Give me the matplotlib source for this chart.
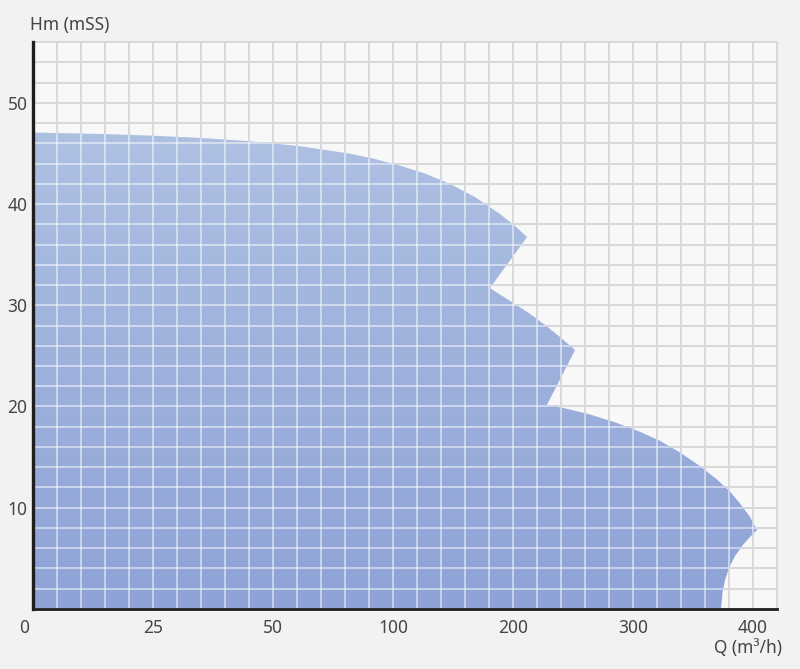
import numpy as np
import matplotlib
matplotlib.use("Agg")
import matplotlib.pyplot as plt
from matplotlib.patches import Polygon
from matplotlib.ticker import FixedLocator, NullFormatter
import matplotlib.transforms as mtransforms

plt.rcParams['font.family'] = ['Noto Sans', 'DejaVu Sans']

# asse Q non lineare: ogni tratto tra due etichette ha la stessa larghezza
q_knots = [0, 25, 50, 100, 200, 300, 400, 420]
u_knots = [0, 5, 10, 15, 20, 25, 30, 31]
q_ticks = [0, 25, 50, 100, 200, 300, 400]
h_ticks = [10, 20, 30, 40, 50]

# contorno del campo di lavoro (Q in m3/h, Hm in m)
# curva alta
q_top = [0, 14.0, 24.4, 34.8, 45.2, 61.3, 82.1, 92.5, 105.8, 126.7,
         147.5, 168.3, 189.2, 201.7, 211.7]
h_top = [47.06, 46.92, 46.76, 46.53, 46.20, 45.71, 44.97, 44.44, 43.80,
         43.01, 41.98, 40.69, 39.01, 37.83, 36.74]
# curva intermedia
q_mid = [180.8, 189.2, 201.7, 214.2, 226.7, 239.2, 251.7]
h_mid = [31.70, 31.06, 30.12, 29.14, 28.05, 26.86, 25.58]
# curva bassa
q_low = [228.3, 243.3, 264.2, 285, 305.8, 322.5, 339.2, 355.8, 370,
         380.8, 389.2, 397.5, 403.3]
h_low = [20.15, 19.82, 19.21, 18.44, 17.50, 16.61, 15.46, 14.12, 12.79,
         11.60, 10.42, 9.09, 7.80]
# rientro verso il fondo
q_end = [397.5, 390.8, 385, 380, 376.7, 374.6, 373.3]
h_end = [7.11, 6.22, 5.23, 4.05, 2.86, 1.68, 0]

q_edge = [0] + q_top + q_mid + q_low + q_end
h_edge = [0] + h_top + h_mid + h_low + h_end

# griglia: 5 celle per ogni tratto
q_grid = np.concatenate([np.arange(0, 50, 5), np.arange(50, 100, 10),
                         np.arange(100, 421, 20)])
h_grid = np.arange(0, 57, 2)


def fwd(q):
    return np.interp(q, q_knots, u_knots, left=-1, right=32)


def inv(u):
    return np.interp(u, u_knots, q_knots)


text_col = '#454545'
grid_col = '#d9d9d9'

fig = plt.figure(figsize=(8, 6.69), dpi=100, facecolor='#f1f2f4')
ax = fig.add_axes([0.04125, 0.0897, 0.93, 0.8475])
ax.set_facecolor('#f8f8f9')
ax.set_xscale('function', functions=(fwd, inv))
ax.set_xlim(0, 420)
ax.set_ylim(0, 56)

ax.xaxis.set_major_locator(FixedLocator(q_ticks))
ax.xaxis.set_minor_locator(FixedLocator(q_grid))
ax.xaxis.set_minor_formatter(NullFormatter())
ax.set_xticklabels([str(q) for q in q_ticks])
ax.yaxis.set_major_locator(FixedLocator(h_ticks))
ax.yaxis.set_minor_locator(FixedLocator(h_grid))

ax.set_axisbelow(True)
ax.grid(True, which='both', color=grid_col, linewidth=1.4)
ax.tick_params(which='both', length=0, labelsize=12.5, labelcolor=text_col)
ax.tick_params(axis='x', pad=7)
ax.tick_params(axis='y', pad=4)

# "0" un po' a sinistra
lbl0 = ax.get_xticklabels()[0]
lbl0.set_transform(lbl0.get_transform() +
                   mtransforms.ScaledTranslation(-9 / 100, 0, fig.dpi_scale_trans))

for s in ['top', 'right']:
    ax.spines[s].set_color(grid_col)
    ax.spines[s].set_linewidth(1.4)
ax.spines['left'].set_color('#1e1e1e')
ax.spines['left'].set_linewidth(2.4)
ax.spines['bottom'].set_color('#1e1e1e')
ax.spines['bottom'].set_linewidth(2.0)
ax.spines['left'].set_zorder(5)
ax.spines['bottom'].set_zorder(5)

# area con sfumatura
poly = Polygon(np.column_stack([q_edge, h_edge]), closed=True,
               facecolor='none', edgecolor='none', transform=ax.transData)
ax.add_patch(poly)
grad = np.linspace(0, 1, 256).reshape(-1, 1)
cmap = matplotlib.colors.LinearSegmentedColormap.from_list(
    'g', ['#8ea2d6', '#b4c6e4'])
img = ax.imshow(grad, cmap=cmap, aspect='auto', origin='lower',
                extent=[0, 1, 0, 1], transform=ax.transAxes, zorder=2)
img.set_clip_path(poly)

# linee chiare della griglia sopra l'area
vl = ax.vlines(q_grid, 0, 56, color='white', alpha=0.5, linewidth=1.4, zorder=3)
hl = ax.hlines(h_grid, 0, 420, color='white', alpha=0.5, linewidth=1.4, zorder=3)
vl.set_clip_path(poly)
hl.set_clip_path(poly)

ax.set_xlim(0, 420)
ax.set_ylim(0, 56)

fig.text(0.0375, 1 - 25 / 669, 'Hm (mSS)', fontsize=12.5, color=text_col,
         ha='left', va='center')
fig.text(0.977, 1 - 648 / 669, 'Q (m³/h)', fontsize=12.5, color=text_col,
         ha='right', va='center')

fig.savefig('out.png', dpi=100, facecolor=fig.get_facecolor())
